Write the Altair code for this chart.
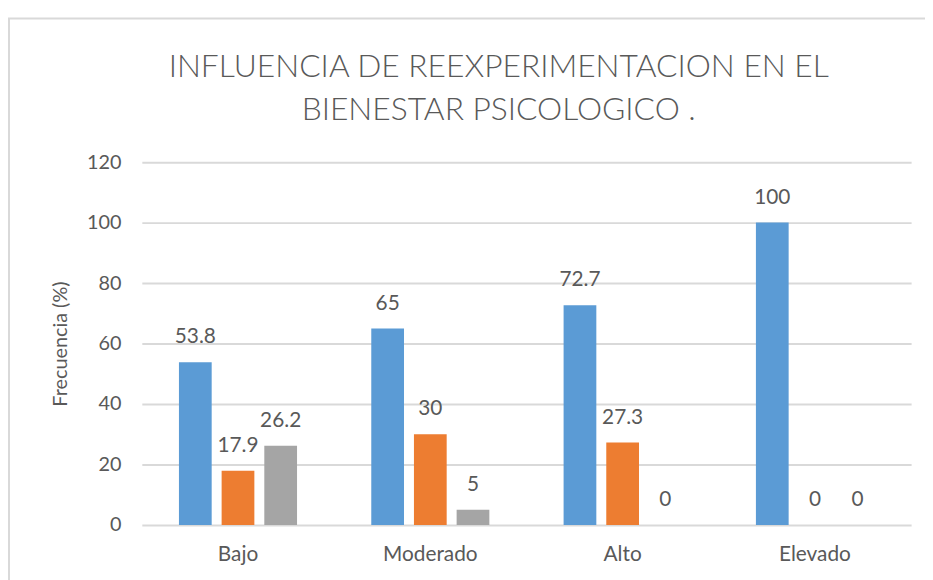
import altair as alt
import pandas as pd

categories = ["Bajo", "Moderado", "Alto", "Elevado"]
series = ["S1", "S2", "S3"]
s1 = [53.8, 65, 72.7, 100]
s2 = [17.9, 30, 27.3, 0]
s3 = [26.2, 5, 0, 0]
colors = ["#5B9BD5", "#ED7D31", "#A5A5A5"]

rows = []
for i, c in enumerate(categories):
    for s, vals in zip(series, [s1, s2, s3]):
        rows.append({"cat": c, "serie": s, "val": vals[i], "lbl": f"{vals[i]:g}"})
df = pd.DataFrame(rows)

FONT = "Lato"
TXT = "#595959"

x = alt.X("cat:N", sort=categories, title=None,
          scale=alt.Scale(paddingInner=0.386, paddingOuter=0.193),
          axis=alt.Axis(labelAngle=0, labelFontSize=21, labelColor=TXT, labelFont=FONT,
                        ticks=False, domain=False, labelPadding=19))
xo = alt.XOffset("serie:N", sort=series, scale=alt.Scale(paddingInner=0.233, paddingOuter=0))
y = alt.Y("val:Q", title="Frecuencia (%)",
          scale=alt.Scale(domain=[0, 120], nice=False),
          axis=alt.Axis(values=[0, 20, 40, 60, 80, 100, 120], labelFontSize=20, labelColor=TXT,
                        labelFont=FONT, ticks=False, domain=False, labelPadding=21,
                        titleFontSize=20, titleColor=TXT, titleFont=FONT, titleFontWeight="normal",
                        titlePadding=16, gridColor="#D9D9D9", gridWidth=2))

base = alt.Chart(df)

frame = base.mark_rect(fill="white", fillOpacity=0, stroke="#D9D9D9", strokeWidth=2, clip=False).encode(
    x=alt.value(-134), x2=alt.value(820), y=alt.value(-145), y2=alt.value(450)
).transform_filter("datum.cat == 'Bajo' && datum.serie == 'S1'")

bars = base.mark_bar().encode(
    x=x, xOffset=xo, y=y,
    color=alt.Color("serie:N", sort=series, scale=alt.Scale(domain=series, range=colors), legend=None),
)

labels = base.mark_text(fontSize=21, color=TXT, font=FONT, baseline="middle", dy=-25).encode(
    x=x, xOffset=xo, y=y, text="lbl:N"
)

chart = alt.layer(frame, bars, labels).properties(
    width=776, height=366,
    title=alt.Title(["INFLUENCIA DE REEXPERIMENTACION EN EL", "BIENESTAR PSICOLOGICO ."],
                    fontSize=32, font=FONT, fontWeight=300, color=TXT, lineHeight=43,
                    anchor="middle", dx=-28, offset=-110),
    autosize=alt.AutoSizeParams(type="none"),
    padding={"left": 135, "top": 153, "right": 14, "bottom": 53},
).configure_view(stroke=None)

chart.save("out.html", embed_options={"renderer": "svg", "actions": False})
